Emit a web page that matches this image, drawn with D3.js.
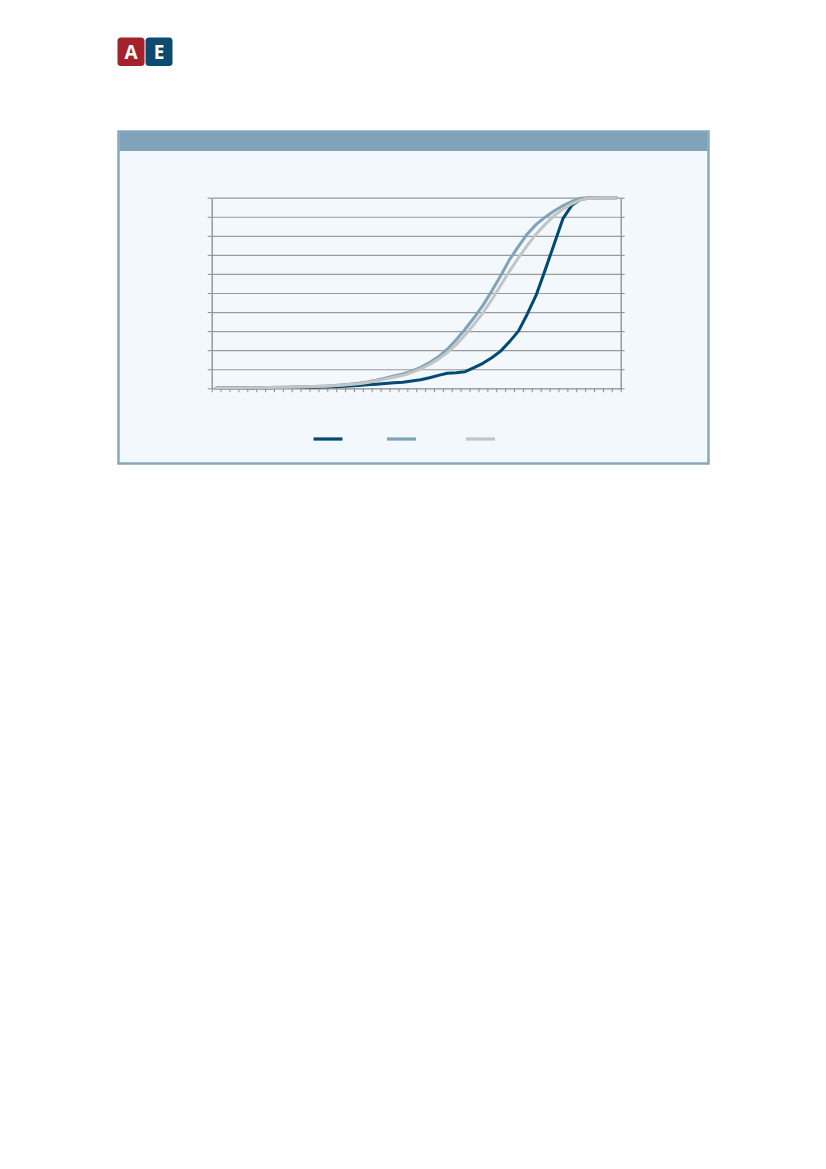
<!DOCTYPE html>
<html>
<head>
<meta charset="utf-8">
<script src="https://cdn.jsdelivr.net/npm/d3@7"></script>
<style>
  html, body { margin: 0; padding: 0; background: #ffffff; }
  svg { display: block; }
</style>
</head>
<body>
<svg id="chart" width="826" height="1169"></svg>
<script>
// ---- data ----
const categories = d3.range(1, 47);          // 46 unlabeled categories
const yTicks = [0, 10, 20, 30, 40, 50, 60, 70, 80, 90, 100];

const series1 = [0.1, 0.1, 0.2, 0.2, 0.2, 0.3, 0.3, 0.4, 0.4, 0.5,
                 0.5, 0.6, 0.7, 0.8, 1.0, 1.2, 1.5, 1.8, 2.1, 2.5,
                 2.9, 3.2, 3.8, 4.5, 5.5, 6.8, 7.9, 8.2, 8.7, 10.8,
                 13.1, 16.0, 19.5, 24.5, 30.0, 39.0, 49.0, 62.0, 75.5, 89.0,
                 96.0, 99.0, 100, 100, 100, 100];
const series2 = [0.1, 0.1, 0.2, 0.2, 0.3, 0.3, 0.4, 0.5, 0.6, 0.7,
                 0.8, 0.9, 1.1, 1.4, 1.7, 2.1, 2.6, 3.3, 4.2, 5.3,
                 6.5, 7.5, 9.0, 11.0, 13.5, 16.5, 20.5, 25.5, 31.0, 37.0,
                 43.5, 51.0, 59.0, 67.5, 74.5, 81.0, 86.0, 89.8, 93.0, 95.8,
                 98.0, 99.7, 100, 100, 100, 100];
const series3 = [0.1, 0.1, 0.2, 0.2, 0.3, 0.3, 0.4, 0.5, 0.6, 0.7,
                 0.8, 0.9, 1.1, 1.3, 1.6, 2.0, 2.4, 3.0, 3.8, 4.8,
                 5.8, 6.8, 8.3, 10.2, 12.5, 15.3, 18.7, 23.0, 28.0, 33.5,
                 39.5, 46.5, 54.0, 61.5, 68.5, 75.0, 81.0, 86.0, 90.5, 94.0,
                 96.8, 98.8, 99.8, 100, 100, 100];
const seriesColors = ["#004a73", "#7fa3b8", "#c4c4c4"];

// ---- drawing ----
const svg = d3.select("#chart");

// logo
const logo = svg.append("g");
logo.append("rect").attr("x", 117.5).attr("y", 37.5).attr("width", 27).attr("height", 28.5)
  .attr("rx", 3.5).attr("fill", "#a3222b");
logo.append("rect").attr("x", 145.5).attr("y", 37.5).attr("width", 27).attr("height", 28.5)
  .attr("rx", 3.5).attr("fill", "#0c4a70");
logo.append("text").attr("x", 131).attr("y", 58.5).attr("text-anchor", "middle")
  .attr("font-family", "Open Sans, sans-serif").attr("font-weight", 700).attr("font-size", 19)
  .attr("fill", "#ffffff").text("A");
logo.append("text").attr("x", 159).attr("y", 58.5).attr("text-anchor", "middle")
  .attr("font-family", "Open Sans, sans-serif").attr("font-weight", 700).attr("font-size", 19)
  .attr("fill", "#ffffff").text("E");

// panel
svg.append("rect").attr("x", 118.5).attr("y", 131.5).attr("width", 590).attr("height", 332)
  .attr("fill", "#f3f8fc").attr("stroke", "#8aa8bc").attr("stroke-width", 2.5);
svg.append("rect").attr("x", 119.5).attr("y", 132).attr("width", 588).attr("height", 19)
  .attr("fill", "#7fa3b8");

// scales
const plotL = 211.7, plotR = 620.7, plotT = 197.7, plotB = 388.3;
const x = d3.scaleBand().domain(categories).range([plotL, plotR]).padding(0);
const xb = d3.scaleLinear().domain([0, categories.length]).range([plotL, plotR]);
const y = d3.scaleLinear().domain([0, 100]).range([plotB, plotT]);

// gridlines
const grid = svg.append("g").attr("transform", `translate(${plotL},0)`)
  .call(d3.axisLeft(y).tickValues(yTicks.slice(1)).tickSize(-(plotR - plotL)).tickFormat(""));
grid.select(".domain").remove();
grid.selectAll("line").attr("stroke", "#9a9a9a").attr("stroke-width", 1.2);

// axes
function styleAxis(g) {
  g.selectAll("path.domain").attr("stroke", "#8c8c8c").attr("stroke-width", 1.3);
  g.selectAll("line").attr("stroke", "#8c8c8c").attr("stroke-width", 1);
}
svg.append("g").attr("transform", `translate(${plotL},0)`)
  .call(d3.axisLeft(y).tickValues(yTicks).tickSize(4).tickSizeOuter(0).tickFormat(""))
  .call(styleAxis);
svg.append("g").attr("transform", `translate(${plotR},0)`)
  .call(d3.axisRight(y).tickValues(yTicks).tickSize(4).tickSizeOuter(0).tickFormat(""))
  .call(styleAxis);
svg.append("g").attr("transform", `translate(0,${plotB})`)
  .call(d3.axisBottom(xb).tickValues(d3.range(0, categories.length + 1)).tickSize(4).tickSizeOuter(0).tickFormat(""))
  .call(styleAxis);

// lines
const line = d3.line()
  .x((d, i) => x(categories[i]) + x.bandwidth() / 2)
  .y(d => y(d));
[series1, series2, series3].forEach((s, k) => {
  svg.append("path").datum(s).attr("d", line)
    .attr("fill", "none").attr("stroke", seriesColors[k])
    .attr("stroke-width", 3).attr("stroke-linejoin", "round").attr("stroke-linecap", "round");
});

// legend (lines only; no legend text is visible in the reference)
const legendX = [313.5, 387, 466];
seriesColors.forEach((c, k) => {
  svg.append("line").attr("x1", legendX[k]).attr("x2", legendX[k] + 29)
    .attr("y1", 439).attr("y2", 439)
    .attr("stroke", c).attr("stroke-width", 3.2);
});
</script>
</body>
</html>
